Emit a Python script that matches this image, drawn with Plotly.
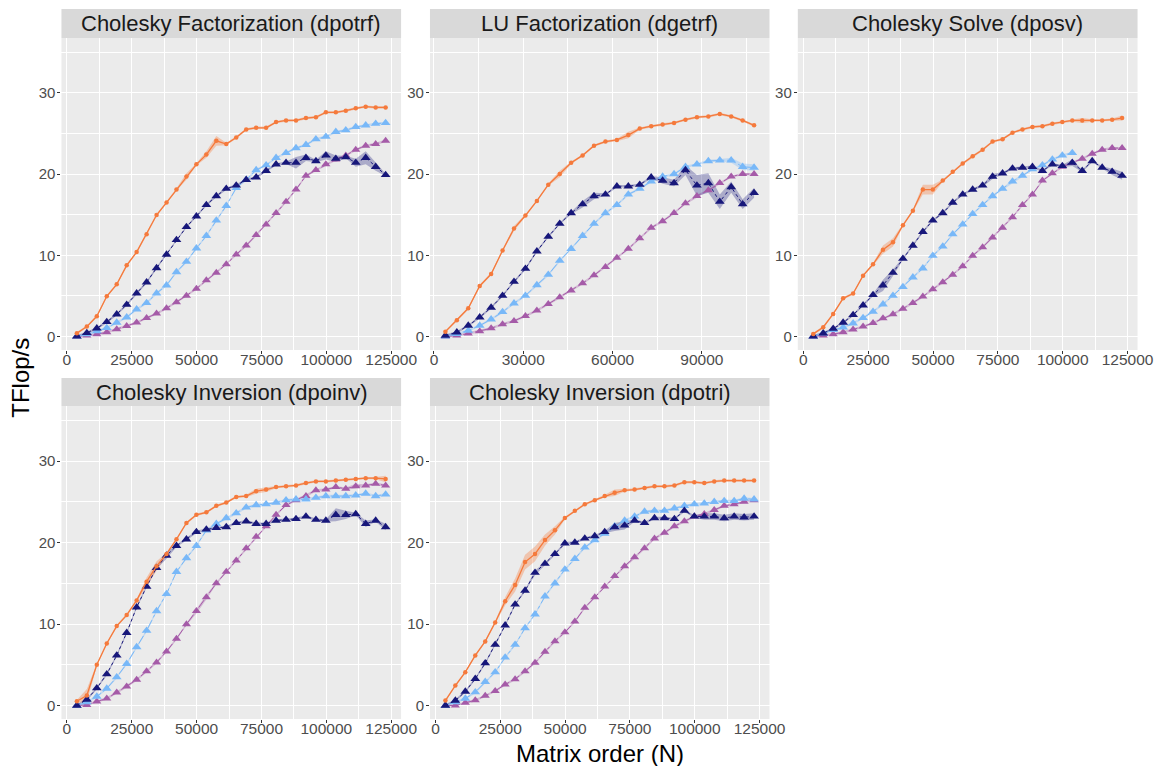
import plotly.graph_objects as go

# ---------------- data ----------------
N_32 = [3840, 7680, 11520, 15360, 19200, 23040, 26880, 30720, 34560, 38400,
        42240, 46080, 49920, 53760, 57600, 61440, 65280, 69120, 72960, 76800,
        80640, 84480, 88320, 92160, 96000, 99840, 103680, 107520, 111360,
        115200, 119040, 122880]
N_28 = [3840, 7680, 11520, 15360, 19200, 23040, 26880, 30720, 34560, 38400,
        42240, 46080, 49920, 53760, 57600, 61440, 65280, 69120, 72960, 76800,
        80640, 84480, 88320, 92160, 96000, 99840, 103680, 107520]
N_27 = [3840, 7680, 11520, 15360, 19200, 23040, 26880, 30720, 34560, 38400,
        42240, 46080, 49920, 53760, 57600, 61440, 65280, 69120, 72960, 76800,
        80640, 84480, 88320, 92160, 96000, 99840, 103680]

panel_titles = ["Cholesky Factorization (dpotrf)", "LU Factorization (dgetrf)",
                "Cholesky Solve (dposv)", "Cholesky Inversion (dpoinv)",
                "Cholesky Inversion (dpotri)"]

# dpotrf
potrf_orange = [0.41, 1.23, 2.5, 4.96, 6.43, 8.77, 10.4, 12.6, 14.96, 16.5, 18.1, 19.7,
                21.2, 22.4, 24.1, 23.7, 24.5, 25.5, 25.7, 25.7, 26.4, 26.6, 26.6, 26.9,
                27.0, 27.6, 27.6, 27.8, 28.1, 28.3, 28.2, 28.2]
potrf_navy = [0.04, 0.45, 1.02, 1.8, 2.75, 3.93, 5.33, 6.68, 8.44, 10.1, 11.9, 13.5,
              14.8, 16.2, 17.3, 18.2, 18.6, 19.3, 19.6, 20.4, 21.2, 21.4, 21.4, 22.0,
              21.6, 22.3, 21.9, 22.1, 21.4, 22.0, 20.9, 19.9]
potrf_light = [0.04, 0.29, 0.66, 1.07, 1.72, 2.38, 3.36, 4.14, 5.33, 6.31, 7.95, 9.22,
               10.86, 12.4, 14.3, 16.1, 18.3, 19.3, 20.5, 21.1, 22.0, 22.6, 23.2, 23.6,
               24.3, 24.6, 25.2, 25.4, 25.8, 26.0, 26.2, 26.3]
potrf_purple = [0.0, 0.12, 0.29, 0.53, 0.9, 1.31, 1.72, 2.3, 2.83, 3.48, 4.22, 5.04,
                5.9, 6.93, 7.87, 8.9, 10.1, 11.2, 12.5, 13.8, 15.2, 16.6, 18.1, 19.8,
                20.5, 21.2, 21.8, 22.3, 23.0, 23.5, 23.7, 24.1]

# dgetrf
getrf_orange = [0.61, 2.0, 3.48, 6.23, 7.7, 10.6, 13.3, 14.9, 16.7, 18.7, 20.0, 21.4,
                22.3, 23.5, 24.0, 24.2, 24.8, 25.6, 25.9, 26.1, 26.3, 26.7, 27.0, 27.1,
                27.4, 27.1, 26.6, 26.0]
getrf_navy = [0.12, 0.53, 1.35, 2.38, 3.57, 5.04, 6.76, 8.36, 10.5, 12.3, 13.9, 15.2,
              16.3, 17.3, 17.5, 18.5, 18.5, 18.7, 19.6, 19.2, 18.9, 20.5, 18.6, 18.9,
              16.6, 18.4, 16.3, 17.7]
getrf_light = [0.04, 0.33, 0.74, 1.35, 2.13, 3.03, 4.1, 5.04, 6.35, 7.62, 9.34, 10.8,
               12.4, 13.9, 15.2, 16.2, 17.5, 18.2, 19.1, 19.7, 20.0, 20.9, 21.2, 21.6,
               21.7, 21.7, 20.9, 20.8]
getrf_purple = [0.0, 0.12, 0.37, 0.66, 1.02, 1.52, 1.93, 2.54, 3.2, 4.02, 4.84, 5.66,
                6.56, 7.54, 8.57, 9.71, 10.8, 12.1, 13.4, 14.2, 15.2, 16.4, 17.3, 18.0,
                18.9, 19.7, 20.0, 20.0]

# dposv
posv_orange = [0.33, 1.15, 2.79, 4.71, 5.29, 7.5, 8.9, 10.7, 11.6, 13.7, 15.5, 18.1,
               18.1, 19.2, 20.3, 21.3, 22.2, 23.0, 24.0, 24.3, 25.1, 25.5, 25.8, 25.9,
               26.2, 26.4, 26.6, 26.6, 26.6, 26.6, 26.7, 26.9]
posv_navy = [0.04, 0.41, 0.98, 1.72, 2.66, 3.85, 5.12, 6.31, 7.87, 9.59, 11.2, 12.9,
             14.3, 15.2, 16.5, 17.5, 18.1, 18.6, 19.7, 20.1, 20.7, 20.8, 20.9, 20.4,
             21.2, 21.0, 21.4, 20.4, 21.6, 20.8, 20.3, 19.8]
posv_light = [0.04, 0.41, 0.82, 1.15, 1.64, 2.3, 3.07, 3.98, 5.04, 6.11, 7.3, 8.4,
              9.96, 11.1, 12.6, 13.8, 15.1, 16.2, 17.3, 18.2, 19.1, 19.8, 20.6, 21.1,
              21.8, 22.3, 22.6]
posv_purple = [0.0, 0.12, 0.29, 0.53, 0.86, 1.23, 1.68, 2.25, 2.75, 3.44, 4.14, 4.92,
               5.82, 6.68, 7.62, 8.65, 9.96, 11.0, 12.2, 13.4, 14.7, 16.2, 17.5, 19.2,
               20.1, 20.9, 21.4, 21.9, 22.5, 23.0, 23.2, 23.2]

# dpoinv
poinv_orange = [0.53, 1.23, 5.0, 7.62, 9.75, 11.1, 12.9, 15.2, 17.1, 18.6, 20.4, 22.4,
                23.4, 23.7, 24.5, 24.9, 25.6, 25.7, 26.3, 26.5, 26.8, 26.9, 27.0, 27.3,
                27.5, 27.5, 27.6, 27.7, 27.8, 27.9, 27.9, 27.8]
poinv_navy = [0.0, 0.74, 2.13, 3.85, 6.15, 8.93, 12.05, 14.6, 16.9, 18.4, 19.6, 20.4,
              21.3, 21.6, 21.8, 21.9, 22.4, 22.6, 22.3, 22.3, 22.7, 22.8, 22.9, 23.2,
              22.8, 22.7, 23.4, 23.4, 23.5, 22.3, 22.7, 21.9]
poinv_light = [0.0, 0.41, 1.1, 2.09, 3.48, 5.12, 7.17, 9.18, 11.6, 13.7, 16.4, 18.1,
               19.6, 21.5, 22.3, 23.0, 23.6, 24.3, 24.6, 24.7, 24.9, 25.2, 25.3, 25.3,
               25.5, 25.7, 25.7, 25.7, 25.8, 26.0, 25.7, 25.9]
poinv_purple = [0.0, 0.08, 0.49, 0.86, 1.6, 2.34, 3.16, 4.22, 5.29, 6.64, 8.2, 9.96,
                11.6, 13.3, 15.0, 16.4, 17.8, 19.3, 20.7, 22.0, 23.4, 24.6, 25.2, 25.7,
                26.4, 26.5, 26.8, 26.6, 26.9, 27.0, 27.2, 27.0]

# dpotri
potri_orange = [0.61, 2.46, 4.1, 6.15, 7.87, 10.2, 12.8, 14.8, 17.6, 18.6, 20.3, 21.5,
                23.0, 23.9, 24.7, 25.2, 25.7, 26.1, 26.4, 26.5, 26.7, 26.9, 26.9, 27.0,
                27.4, 27.4, 27.3, 27.5, 27.6, 27.6, 27.6, 27.6]
potri_navy = [0.0, 0.61, 1.72, 3.28, 5.2, 7.46, 9.84, 12.4, 14.1, 16.3, 17.4, 18.6,
              19.9, 20.0, 20.5, 20.8, 21.3, 21.9, 22.1, 22.7, 22.4, 23.0, 23.0, 22.9,
              23.9, 23.2, 23.2, 23.2, 23.0, 23.2, 23.1, 23.2]
potri_light = [0.0, 0.41, 0.86, 1.64, 2.91, 4.1, 5.9, 7.46, 9.5, 11.2, 13.4, 15.0,
               16.7, 18.0, 19.4, 20.3, 21.1, 22.0, 22.7, 23.2, 23.8, 23.9, 23.9, 24.2,
               24.5, 24.7, 24.8, 25.0, 25.1, 25.1, 25.4, 25.3]
potri_purple = [0.0, 0.0, 0.33, 0.66, 1.19, 1.8, 2.58, 3.24, 4.22, 5.25, 6.6, 7.9,
                8.98, 10.3, 12.0, 13.3, 14.6, 15.9, 17.1, 18.2, 19.3, 20.5, 21.2, 22.0,
                22.6, 23.2, 23.5, 24.0, 24.5, 24.7, 25.0, 25.2]

# ribbon half-widths (TFlop/s) where the spread band is visibly wider
band_default = 0.15
band_wide = {
    (0, "orange"): {13: 0.4, 14: 0.6, 11: 0.4},
    (0, "navy"): {22: 0.7, 23: 0.4, 25: 0.5, 26: 0.4, 28: 0.5, 29: 0.8, 30: 0.5},
    (1, "orange"): {6: 0.3, 10: 0.4, 16: 0.4},
    (1, "navy"): {12: 0.4, 13: 0.4, 19: 0.4, 20: 0.4, 21: 0.6, 22: 1.3, 23: 1.2, 24: 0.9, 25: 0.7, 26: 0.6, 27: 0.6},
    (1, "light"): {25: 0.3, 26: 0.4, 27: 0.4},
    (2, "orange"): {7: 0.5, 8: 0.5, 11: 0.6, 12: 0.6, 27: 0.3, 31: 0.3},
    (2, "navy"): {7: 0.7, 8: 0.4, 18: 0.3, 26: 0.4, 30: 0.4, 31: 0.5},
    (3, "orange"): {1: 0.8, 7: 0.5, 8: 0.6, 18: 0.3, 19: 0.3, 31: 0.4},
    (3, "navy"): {9: 0.4, 26: 0.8, 27: 0.5, 29: 0.4, 31: 0.4},
    (3, "purple"): {12: 0.3, 13: 0.3, 28: 0.3},
    (4, "orange"): {6: 0.5, 7: 0.8, 8: 0.9, 9: 0.9, 10: 0.7, 11: 0.5, 17: 0.4},
    (4, "navy"): {9: 0.3, 17: 0.5, 18: 0.5, 26: 0.4, 27: 0.4, 28: 0.4, 29: 0.4, 30: 0.4, 31: 0.4},
}

panels = [
    (N_32, N_32, N_32, N_32, potrf_orange, potrf_navy, potrf_light, potrf_purple),
    (N_28, N_28, N_28, N_28, getrf_orange, getrf_navy, getrf_light, getrf_purple),
    (N_32, N_32, N_27, N_32, posv_orange, posv_navy, posv_light, posv_purple),
    (N_32, N_32, N_32, N_32, poinv_orange, poinv_navy, poinv_light, poinv_purple),
    (N_32, N_32, N_32, N_32, potri_orange, potri_navy, potri_light, potri_purple),
]

# ---------------- style ----------------
W, H = 1157, 766
FONT = "Liberation Sans, Arial, Helvetica, sans-serif"
styles = {
    "purple": dict(color="#A55BA8", fill="rgba(165,91,168,0.35)", dash="dashdot", lw=1.0, sym="triangle-up", ms=8),
    "light": dict(color="#78B8F8", fill="rgba(120,184,248,0.35)", dash="dashdot", lw=1.0, sym="triangle-up", ms=8.5),
    "navy": dict(color="#17177A", fill="rgba(23,23,122,0.30)", dash="dot", lw=1.0, sym="triangle-up", ms=8.5),
    "orange": dict(color="#F57A3C", fill="rgba(245,122,60,0.35)", dash="solid", lw=1.3, sym="circle", ms=4.5),
}
order = ["purple", "light", "navy", "orange"]

def px_x(p):
    return p / W

def px_y(p):
    return 1 - p / H

col_px = [(62.3, 406.7), (436.0, 780.3), (809.0, 1153.5)]
row_px = [(38.0, 350.0), (406.0, 719.0)]
strip_px = [(9.0, 38.0), (378.0, 406.0)]
cells = [(0, 0), (0, 1), (0, 2), (1, 0), (1, 1)]

fig = go.Figure()

for i, p in enumerate(panels):
    xs = {"orange": p[0], "navy": p[1], "light": p[2], "purple": p[3]}
    ys = {"orange": p[4], "navy": p[5], "light": p[6], "purple": p[7]}
    ax = "" if i == 0 else str(i + 1)
    for key in order:
        st = styles[key]
        x = xs[key]
        y = ys[key]
        wide = band_wide.get((i, key), {})
        hw = [wide.get(j, band_default) for j in range(len(y))]
        up = [v + h for v, h in zip(y, hw)]
        lo = [max(v - h, 0) for v, h in zip(y, hw)]
        fig.add_trace(go.Scatter(
            x=list(x) + list(x)[::-1], y=up + lo[::-1], fill="toself",
            fillcolor=st["fill"], line=dict(width=0), mode="lines",
            hoverinfo="skip", showlegend=False, xaxis="x" + ax, yaxis="y" + ax))
    for key in order:
        st = styles[key]
        fig.add_trace(go.Scatter(
            x=xs[key], y=ys[key], mode="lines+markers",
            line=dict(color=st["color"], width=st["lw"], dash=st["dash"]),
            marker=dict(symbol=st["sym"], size=st["ms"], color=st["color"], line=dict(width=0)),
            showlegend=False, xaxis="x" + ax, yaxis="y" + ax))

layout = dict(
    width=W, height=H, margin=dict(l=0, r=0, t=0, b=0),
    paper_bgcolor="white", plot_bgcolor="#EBEBEB",
    font=dict(family=FONT, color="#4D4D4D"),
    showlegend=False,
)

shapes = []
annotations = []
for i, (r, c) in enumerate(cells):
    ax = "" if i == 0 else str(i + 1)
    xd = [px_x(col_px[c][0]), px_x(col_px[c][1])]
    yd = [px_y(row_px[r][1]), px_y(row_px[r][0])]
    if i == 1:
        xr = [-1344, 112704]
        xt = [0, 30000, 60000, 90000]
        xminor = 15000
    else:
        xr = [-2112, 128832]
        xt = [0, 25000, 50000, 75000, 100000, 125000]
        xminor = 12500
    layout["xaxis" + ax] = dict(
        domain=xd, range=xr, anchor="y" + ax, tickvals=xt, tickformat="d",
        showgrid=True, gridcolor="white", gridwidth=1.1, zeroline=False,
        ticks="outside", ticklen=3, tickwidth=1, tickcolor="#333333",
        ticklabelstandoff=-8,
        tickfont=dict(size=15.5, color="#4D4D4D", family=FONT),
        minor=dict(tick0=0, dtick=xminor, showgrid=True, gridcolor="white", gridwidth=0.5, ticks=""),
        showline=False, fixedrange=True)
    layout["yaxis" + ax] = dict(
        domain=yd, range=[-1.65, 36.75], anchor="x" + ax, tickvals=[0, 10, 20, 30],
        showgrid=True, gridcolor="white", gridwidth=1.1, zeroline=False,
        ticks="outside", ticklen=3, tickwidth=1, tickcolor="#333333",
        ticklabelstandoff=-1,
        tickfont=dict(size=15, color="#4D4D4D", family=FONT),
        minor=dict(tick0=0, dtick=5, showgrid=True, gridcolor="white", gridwidth=0.5, ticks=""),
        showline=False, fixedrange=True)
    # facet strip
    s0, s1 = strip_px[r]
    shapes.append(dict(type="rect", xref="paper", yref="paper",
                       x0=xd[0], x1=xd[1], y0=px_y(s1), y1=px_y(s0),
                       fillcolor="#D9D9D9", line=dict(width=0), layer="below"))
    annotations.append(dict(text=panel_titles[i], xref="paper", yref="paper",
                            x=(xd[0] + xd[1]) / 2, y=px_y((s0 + s1) / 2),
                            xanchor="center", yanchor="middle", showarrow=False,
                            font=dict(size=22, color="#1A1A1A", family=FONT)))

annotations.append(dict(text="TFlop/s", xref="paper", yref="paper", x=px_x(20), y=px_y(378),
                        textangle=-90, xanchor="center", yanchor="middle", showarrow=False,
                        font=dict(size=24, color="black", family=FONT)))
annotations.append(dict(text="Matrix order (N)", xref="paper", yref="paper", x=px_x(608), y=px_y(753),
                        xanchor="center", yanchor="middle", showarrow=False,
                        font=dict(size=24, color="black", family=FONT)))

layout["shapes"] = shapes
layout["annotations"] = annotations
fig.update_layout(**layout)

fig.write_html("out.html")
